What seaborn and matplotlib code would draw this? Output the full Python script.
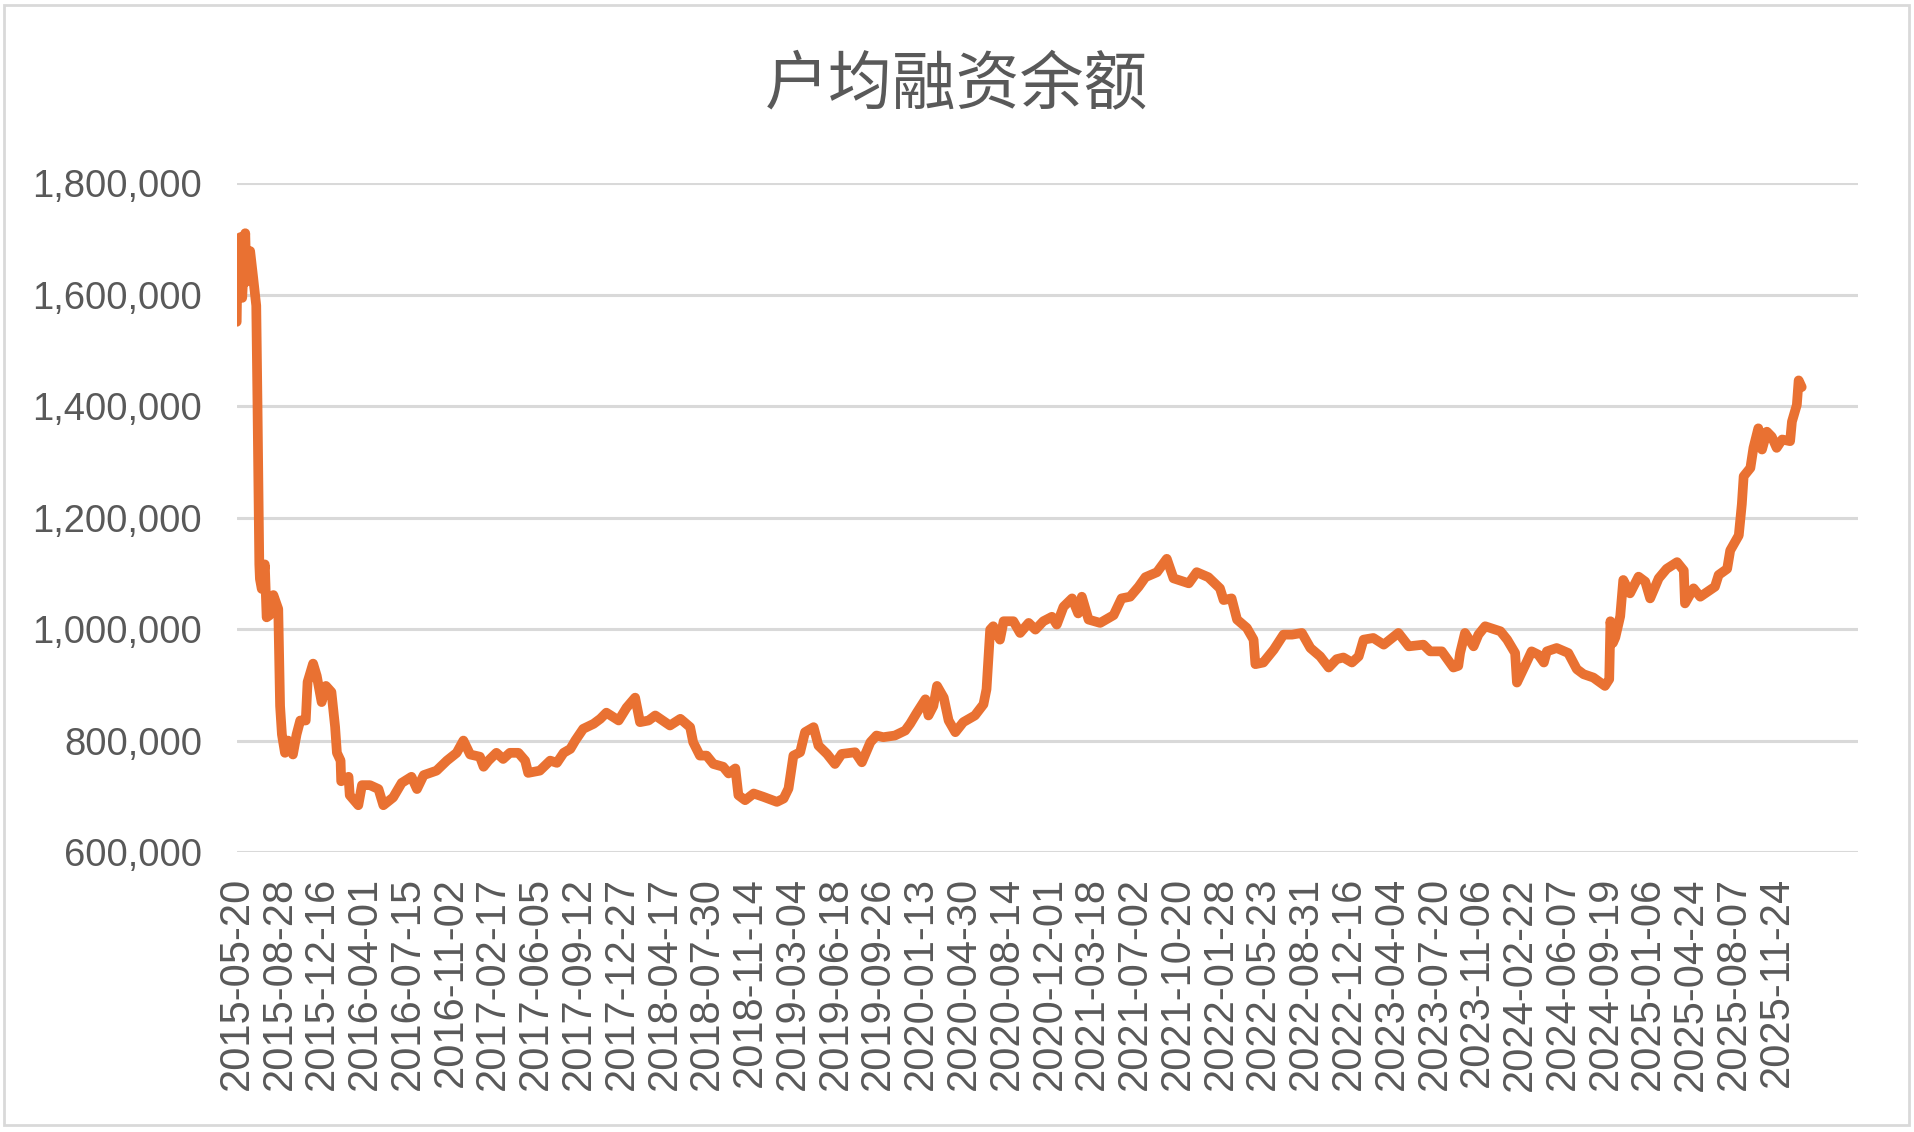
import matplotlib
matplotlib.use('Agg')
from matplotlib import pyplot as plt
from matplotlib.patches import Rectangle
from matplotlib.ticker import FuncFormatter
import numpy as np
import pandas as pd
import seaborn as sns

# trading-day index counted from 2015-05-20, and average margin balance per account
day_idx = [
    0, 1, 6, 9, 14, 16, 22, 27, 32, 34, 37, 38, 41, 46, 49, 54, 60, 68, 71, 74,
    79, 84, 92, 98, 104, 113, 116, 125, 131, 139, 146, 155, 161, 164, 170, 171,
    183, 185, 199, 205, 218, 232, 240, 256, 270, 286, 295, 306, 327, 344, 360,
    371, 382, 398, 404, 412, 425, 436, 447, 461, 472, 477, 496, 513, 524, 535,
    546, 554,
    567, 584, 595, 605, 625, 638, 652, 660, 674, 685, 709, 726, 742, 747, 758,
    769, 780, 796, 805, 816, 821, 832, 846, 862, 884, 895, 903, 911, 922, 930,
    944, 952, 966, 979, 990, 1012, 1023, 1037, 1047, 1058, 1077, 1094, 1102,
    1113, 1127, 1132, 1140, 1146, 1157, 1165, 1176, 1189, 1208, 1222, 1227, 1233,
    1238, 1249, 1255, 1271, 1282, 1296, 1307, 1320, 1334, 1342, 1353, 1367, 1377,
    1383, 1394, 1413, 1435, 1448, 1462, 1476, 1487, 1506, 1522, 1533, 1558, 1571,
    1590, 1609, 1615, 1628, 1637, 1653, 1664, 1667, 1680, 1697, 1713, 1727, 1743,
    1757, 1773, 1787, 1800, 1811, 1825, 1836, 1844, 1860, 1877, 1901, 1918,
    1942, 1953, 1972, 1991, 1999, 2002, 2010, 2024, 2032, 2043, 2068, 2079, 2092,
    2095, 2108, 2119, 2130, 2139, 2144, 2160, 2179, 2193, 2204, 2220, 2239, 2246,
    2248, 2252, 2256, 2264, 2269, 2280, 2294, 2305, 2313, 2327, 2340, 2357, 2368,
    2370, 2384, 2395, 2411, 2419, 2425, 2439, 2444, 2458, 2463, 2466, 2477, 2482,
    2490, 2496, 2504, 2512, 2520, 2529, 2542, 2545, 2553, 2556, 2561,
]
balance = [
    1551000, 1634000, 1703000, 1594000, 1710000, 1623000, 1678000, 1630000,
    1580000, 1406000, 1116000, 1090000, 1072000, 1116000, 1021000, 1025000,
    1061000, 1036000, 862000, 811000, 778000, 800000, 775000, 811000, 836000,
    836000, 905000, 938000, 916000, 869000, 898000, 887000, 825000, 778000,
    764000, 727000, 735000, 702000, 684000, 720000, 720000, 713000, 684000,
    698000, 724000, 735000, 713000, 738000, 746000, 764000, 778000, 800000,
    775000, 771000, 753000, 764000, 778000, 767000, 778000, 778000, 764000,
    742000, 746000, 764000, 760000, 778000, 785000, 800000,
    821000, 830000, 839000, 850000, 836000, 859000, 877000, 833000, 836000,
    845000, 827000, 839000, 824000, 797000, 773000, 773000, 758000, 753000,
    741000, 750000, 702000, 693000, 705000, 699000, 690000, 696000, 714000,
    773000, 779000, 815000, 824000, 791000, 776000, 758000, 776000, 779000,
    761000, 797000, 809000, 806000, 809000, 818000, 830000, 850000, 874000,
    845000, 862000, 898000, 877000, 836000, 815000, 833000, 845000, 865000,
    892000, 999000,
    1005000, 981000, 1014000, 1014000, 993000, 1011000, 999000, 1014000,
    1022000, 1008000, 1040000, 1055000, 1028000, 1058000, 1017000, 1011000,
    1025000, 1055000, 1058000, 1076000, 1093000, 1102000, 1126000, 1091000,
    1082000, 1102000, 1093000, 1073000, 1052000, 1055000, 1017000, 1002000,
    981000, 937000, 940000, 963000, 990000, 990000, 993000, 966000, 951000,
    931000, 946000, 949000, 940000, 951000, 981000, 984000, 972000, 993000,
    969000,
    972000, 960000, 960000, 931000, 934000, 957000, 993000, 969000, 990000,
    1005000, 996000, 981000, 957000, 904000, 934000, 960000, 954000, 940000,
    960000, 966000, 957000, 928000, 919000, 913000, 898000, 910000, 1014000,
    975000, 985000, 1023000, 1088000, 1064000, 1094000, 1085000, 1055000,
    1091000, 1108000, 1120000, 1105000, 1046000, 1073000, 1058000, 1070000,
    1076000, 1097000, 1108000, 1141000, 1168000, 1224000, 1274000, 1289000,
    1325000, 1360000, 1322000, 1354000, 1345000, 1325000, 1340000, 1337000,
    1372000, 1402000, 1446000, 1434000,
]
tick_labels = [
    '2015-05-20', '2015-08-28', '2015-12-16', '2016-04-01', '2016-07-15',
    '2016-11-02', '2017-02-17', '2017-06-05', '2017-09-12', '2017-12-27',
    '2018-04-17', '2018-07-30', '2018-11-14', '2019-03-04', '2019-06-18',
    '2019-09-26', '2020-01-13', '2020-04-30', '2020-08-14', '2020-12-01',
    '2021-03-18', '2021-07-02', '2021-10-20', '2022-01-28', '2022-05-23',
    '2022-08-31', '2022-12-16', '2023-04-04', '2023-07-20', '2023-11-06',
    '2024-02-22', '2024-06-07', '2024-09-19', '2025-01-06', '2025-04-24',
    '2025-08-07', '2025-11-24',
]
label_step = 70
n_categories = 2653

sns.set_theme(style='white')
plt.rcParams['font.family'] = ['Liberation Sans', 'Noto Sans CJK SC', 'DejaVu Sans']

df = pd.DataFrame({'day': day_idx, 'balance': balance})

fig = plt.figure(figsize=(19.15, 11.32), dpi=100)
ax = fig.add_axes([0.1236, 0.2473, 0.8466, 0.591])

sns.lineplot(data=df, x='day', y='balance', ax=ax, color='#E97132',
             linewidth=7, estimator=None, solid_joinstyle='round',
             solid_capstyle='round')

ax.set_xlim(0, n_categories)
ax.set_ylim(600000, 1800000)
ax.set_yticks(np.arange(600000, 1800001, 200000))
ax.yaxis.set_major_formatter(FuncFormatter(lambda v, p: f'{int(v):,}'))
ax.set_xticks(np.arange(len(tick_labels)) * label_step)
ax.set_xticklabels(tick_labels, rotation=90)

ax.grid(axis='y', color='#d9d9d9', linewidth=2.2)
ax.grid(axis='x', visible=False)
for s in ax.spines.values():
    s.set_visible(False)
ax.tick_params(axis='y', length=0, pad=25, labelsize=27.5, labelcolor='#595959')
ax.tick_params(axis='x', length=0, pad=18, labelsize=30, labelcolor='#595959')
ax.set_xlabel('')
ax.set_ylabel('')

fig.text(0.4995, 0.924, '户均融资余额', ha='center', va='center',
         fontsize=46, color='#595959',
         family=['Noto Sans CJK SC', 'DejaVu Sans'])

fig.patches.append(Rectangle((0.002, 0.006), 0.995, 0.99,
                             transform=fig.transFigure, fill=False,
                             edgecolor='#d9d9d9', linewidth=2))

fig.savefig('out.png', dpi=100)
